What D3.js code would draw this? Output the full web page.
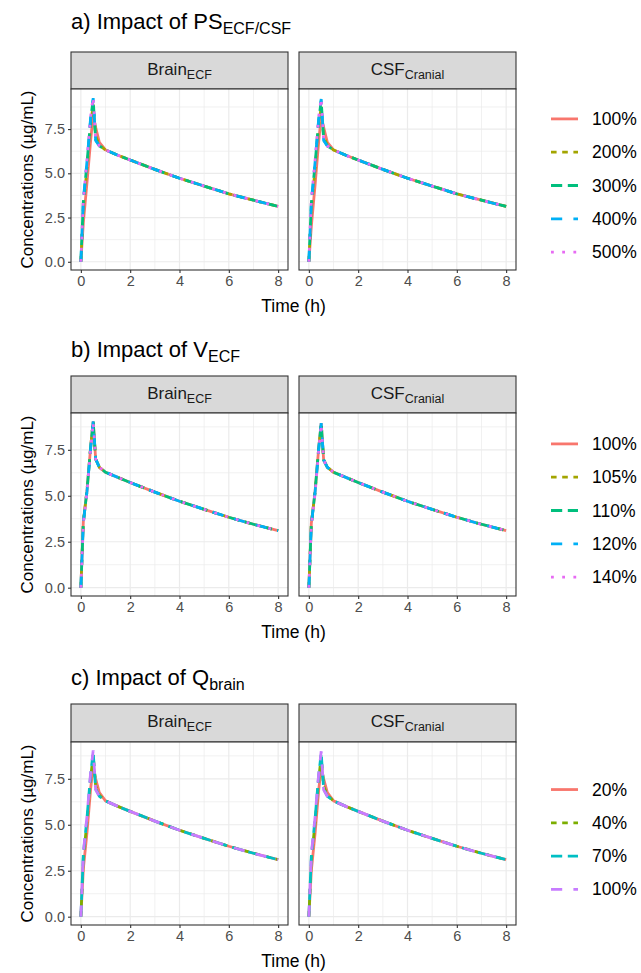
<!DOCTYPE html>
<html>
<head>
<meta charset="utf-8">
<script src="https://cdn.jsdelivr.net/npm/d3@7"></script>
<style>
body { margin: 0; background: #fff; }
svg { font-family: "Liberation Sans", Arial, sans-serif; }
</style>
</head>
<body>
<svg id="chart" width="641" height="973"></svg>
<script>
// time grid of the simulation output (h)
var times = [0, 0.1, 0.25, 0.4, 0.5, 0.6, 0.75, 1, 1.5, 2, 3, 4, 5, 6, 7, 8];

// a) PS ECF/CSF
var levelsA = ["100%", "200%", "300%", "400%", "500%"];
var riseA_brain = [ // t = 0 .. 0.75
  [0, 2.2, 4.5, 6.9, 8.3, 7.6, 6.75],
  [0, 3.1, 5.3, 7.8, 8.9, 7.1, 6.6],
  [0, 3.4, 5.6, 8.1, 9.15, 6.9, 6.55],
  [0, 3.5, 5.7, 8.2, 9.25, 6.85, 6.55],
  [0, 3.5, 5.75, 8.25, 9.3, 6.85, 6.55]
];
var riseA_csf = [
  [0, 2.0, 4.3, 6.8, 8.2, 7.6, 6.75],
  [0, 3.0, 5.2, 7.7, 8.8, 7.1, 6.6],
  [0, 3.3, 5.5, 8.0, 9.1, 6.9, 6.55],
  [0, 3.4, 5.6, 8.1, 9.2, 6.85, 6.55],
  [0, 3.5, 5.7, 8.2, 9.25, 6.85, 6.55]
];
var tailA = [6.32, 6.02, 5.75, 5.22, 4.72, 4.28, 3.84, 3.48, 3.13]; // t = 1 .. 8

// b) V ECF
var levelsB = ["100%", "105%", "110%", "120%", "140%"];
var riseB_brain = [
  [0, 3.6, 5.3, 7.7, 9.05, 7.0, 6.55],
  [0, 3.6, 5.3, 7.7, 9.05, 7.0, 6.55],
  [0, 3.55, 5.3, 7.7, 9.05, 7.0, 6.55],
  [0, 3.55, 5.25, 7.65, 9.05, 7.0, 6.55],
  [0, 3.5, 5.2, 7.6, 9.0, 7.0, 6.55]
];
var riseB_csf = [
  [0, 3.5, 5.2, 7.6, 8.95, 6.95, 6.55],
  [0, 3.5, 5.2, 7.6, 8.95, 6.95, 6.55],
  [0, 3.45, 5.2, 7.6, 8.95, 6.95, 6.55],
  [0, 3.45, 5.15, 7.55, 8.95, 6.95, 6.55],
  [0, 3.4, 5.1, 7.5, 8.9, 6.95, 6.55]
];
var tailB = [6.28, 6.0, 5.72, 5.2, 4.7, 4.26, 3.83, 3.45, 3.1];

// c) Q brain
var levelsC = ["20%", "40%", "70%", "100%"];
var riseC_brain = [
  [0, 2.6, 4.6, 7.0, 8.2, 7.5, 6.75],
  [0, 3.2, 5.2, 7.6, 8.8, 7.1, 6.6],
  [0, 3.4, 5.4, 7.8, 8.95, 6.95, 6.55],
  [0, 3.5, 5.5, 7.9, 9.05, 6.9, 6.55]
];
var riseC_csf = [
  [0, 2.5, 4.5, 6.9, 8.1, 7.5, 6.75],
  [0, 3.1, 5.1, 7.5, 8.7, 7.1, 6.6],
  [0, 3.3, 5.3, 7.7, 8.9, 6.95, 6.55],
  [0, 3.4, 5.4, 7.8, 9.0, 6.9, 6.55]
];
var tailC = [6.3, 6.0, 5.73, 5.2, 4.7, 4.26, 3.83, 3.45, 3.1];

var facetNames = [["Brain", "ECF"], ["CSF", "Cranial"]];
var xTicks = [0, 2, 4, 6, 8];
var yTicks = [0, 2.5, 5, 7.5];

// ggplot default hues and linetypes
var colors5 = ["#F8766D", "#A3A500", "#00BF7D", "#00B0F6", "#E76BF3"];
var colors4 = ["#F8766D", "#7CAE00", "#00BFC4", "#C77CFF"];
var lineTypes = [null, "2,2", "4,2", "4,4", "1,3"];

var sections = [
  {title: "a) Impact of PS", sub: "ECF/CSF", levels: levelsA, colors: colors5,
   rises: [riseA_brain, riseA_csf], tail: tailA, titleY: 29, stripTop: 52, plotTop: 89, plotBottom: 270},
  {title: "b) Impact of V", sub: "ECF", levels: levelsB, colors: colors5,
   rises: [riseB_brain, riseB_csf], tail: tailB, titleY: 357, stripTop: 376, plotTop: 413, plotBottom: 596},
  {title: "c) Impact of Q", sub: "brain", levels: levelsC, colors: colors4,
   rises: [riseC_brain, riseC_csf], tail: tailC, titleY: 685, stripTop: 704, plotTop: 742, plotBottom: 925}
];

var panelX = [[71, 288], [299, 516]];
var LW = 2.8;

var svg = d3.select("#chart");
var defs = svg.append("defs");

function dash(i) {
  return lineTypes[i] ? lineTypes[i].split(",").map(function(k) { return k * LW; }).join(",") : null;
}

sections.forEach(function(sec, si) {
  // full series = rising part + shared tail
  var series = sec.rises.map(function(facet) {
    return facet.map(function(r) { return r.concat(sec.tail); });
  });
  var maxV = d3.max(series, function(f) { return d3.max(f, function(s) { return d3.max(s); }); });
  var pad = maxV * 0.05;
  var y = d3.scaleLinear().domain([-pad, maxV + pad]).range([sec.plotBottom, sec.plotTop]);

  // title
  var t = svg.append("text").attr("x", 71).attr("y", sec.titleY)
    .attr("font-size", 22).attr("fill", "#000");
  t.append("tspan").text(sec.title);
  t.append("tspan").attr("dy", 5).attr("font-size", 16).text(sec.sub);

  panelX.forEach(function(px, fi) {
    var x = d3.scaleLinear().domain([-0.4, 8.4]).range(px);
    var w = px[1] - px[0], h = sec.plotBottom - sec.plotTop;
    var g = svg.append("g");

    // strip
    g.append("rect").attr("x", px[0]).attr("y", sec.stripTop)
      .attr("width", w).attr("height", sec.plotTop - sec.stripTop)
      .attr("fill", "#D9D9D9").attr("stroke", "#333333").attr("stroke-width", 1.1);
    var st = g.append("text").attr("x", (px[0] + px[1]) / 2)
      .attr("y", (sec.stripTop + sec.plotTop) / 2 + 4)
      .attr("text-anchor", "middle").attr("font-size", 17).attr("fill", "#1A1A1A");
    st.append("tspan").text(facetNames[fi][0]);
    st.append("tspan").attr("dy", 4).attr("font-size", 12.5).text(facetNames[fi][1]);

    // panel bg + grid
    g.append("rect").attr("x", px[0]).attr("y", sec.plotTop).attr("width", w).attr("height", h).attr("fill", "#fff");
    [1, 3, 5, 7].forEach(function(v) {
      g.append("line").attr("x1", x(v)).attr("x2", x(v)).attr("y1", sec.plotTop).attr("y2", sec.plotBottom)
        .attr("stroke", "#EBEBEB").attr("stroke-width", 0.7);
    });
    [1.25, 3.75, 6.25, 8.75].forEach(function(v) {
      if (y(v) > sec.plotTop) g.append("line").attr("x1", px[0]).attr("x2", px[1]).attr("y1", y(v)).attr("y2", y(v))
        .attr("stroke", "#EBEBEB").attr("stroke-width", 0.7);
    });
    xTicks.forEach(function(v) {
      g.append("line").attr("x1", x(v)).attr("x2", x(v)).attr("y1", sec.plotTop).attr("y2", sec.plotBottom)
        .attr("stroke", "#EBEBEB").attr("stroke-width", 1.2);
    });
    yTicks.forEach(function(v) {
      g.append("line").attr("x1", px[0]).attr("x2", px[1]).attr("y1", y(v)).attr("y2", y(v))
        .attr("stroke", "#EBEBEB").attr("stroke-width", 1.2);
    });

    // lines
    var clipId = "clip" + si + "_" + fi;
    defs.append("clipPath").attr("id", clipId).append("rect")
      .attr("x", px[0]).attr("y", sec.plotTop).attr("width", w).attr("height", h);
    var line = d3.line().x(function(d, i) { return x(times[i]); }).y(function(d) { return y(d); });
    g.append("g").attr("clip-path", "url(#" + clipId + ")")
      .selectAll("path").data(series[fi]).enter().append("path")
      .attr("d", line).attr("fill", "none")
      .attr("stroke", function(d, i) { return sec.colors[i]; })
      .attr("stroke-width", LW)
      .attr("stroke-dasharray", function(d, i) { return dash(i); });

    // border
    g.append("rect").attr("x", px[0]).attr("y", sec.plotTop).attr("width", w).attr("height", h)
      .attr("fill", "none").attr("stroke", "#333333").attr("stroke-width", 1.1);

    // x axis
    var xa = g.append("g").attr("transform", "translate(0," + sec.plotBottom + ")")
      .call(d3.axisBottom(x).tickValues(xTicks).tickSize(3).tickPadding(3).tickFormat(d3.format("d")));
    xa.select(".domain").remove();
    xa.selectAll("line").attr("stroke", "#333333").attr("stroke-width", 1.1);
    xa.selectAll("text").attr("fill", "#4D4D4D").attr("font-size", 14.5).attr("font-family", "Liberation Sans, Arial, sans-serif");

    // y axis only on left facet
    if (fi === 0) {
      var ya = g.append("g").attr("transform", "translate(" + px[0] + ",0)")
        .call(d3.axisLeft(y).tickValues(yTicks).tickSize(3).tickPadding(3).tickFormat(d3.format(".1f")));
      ya.select(".domain").remove();
      ya.selectAll("line").attr("stroke", "#333333").attr("stroke-width", 1.1);
      ya.selectAll("text").attr("fill", "#4D4D4D").attr("font-size", 14.5).attr("font-family", "Liberation Sans, Arial, sans-serif");
    }
  });

  // axis titles
  svg.append("text").attr("x", (panelX[0][0] + panelX[1][1]) / 2).attr("y", sec.plotBottom + 42)
    .attr("text-anchor", "middle").attr("font-size", 17.5).attr("fill", "#000").text("Time (h)");
  var cy = (sec.plotTop + sec.plotBottom) / 2;
  svg.append("text").attr("transform", "translate(33," + cy + ") rotate(-90)")
    .attr("text-anchor", "middle").attr("font-size", 17).attr("fill", "#000")
    .text("Concentrations (\u00B5g/mL)");

  // legend
  var n = sec.levels.length;
  var lg = svg.append("g");
  sec.levels.forEach(function(lab, i) {
    var ly = cy + 6 + (i - (n - 1) / 2) * 33.3;
    lg.append("line").attr("x1", 551).attr("x2", 578).attr("y1", ly).attr("y2", ly)
      .attr("stroke", sec.colors[i]).attr("stroke-width", LW)
      .attr("stroke-dasharray", dash(i));
    lg.append("text").attr("x", 592).attr("y", ly + 6).attr("font-size", 17.5).attr("fill", "#000").text(lab);
  });
});
</script>
</body>
</html>
